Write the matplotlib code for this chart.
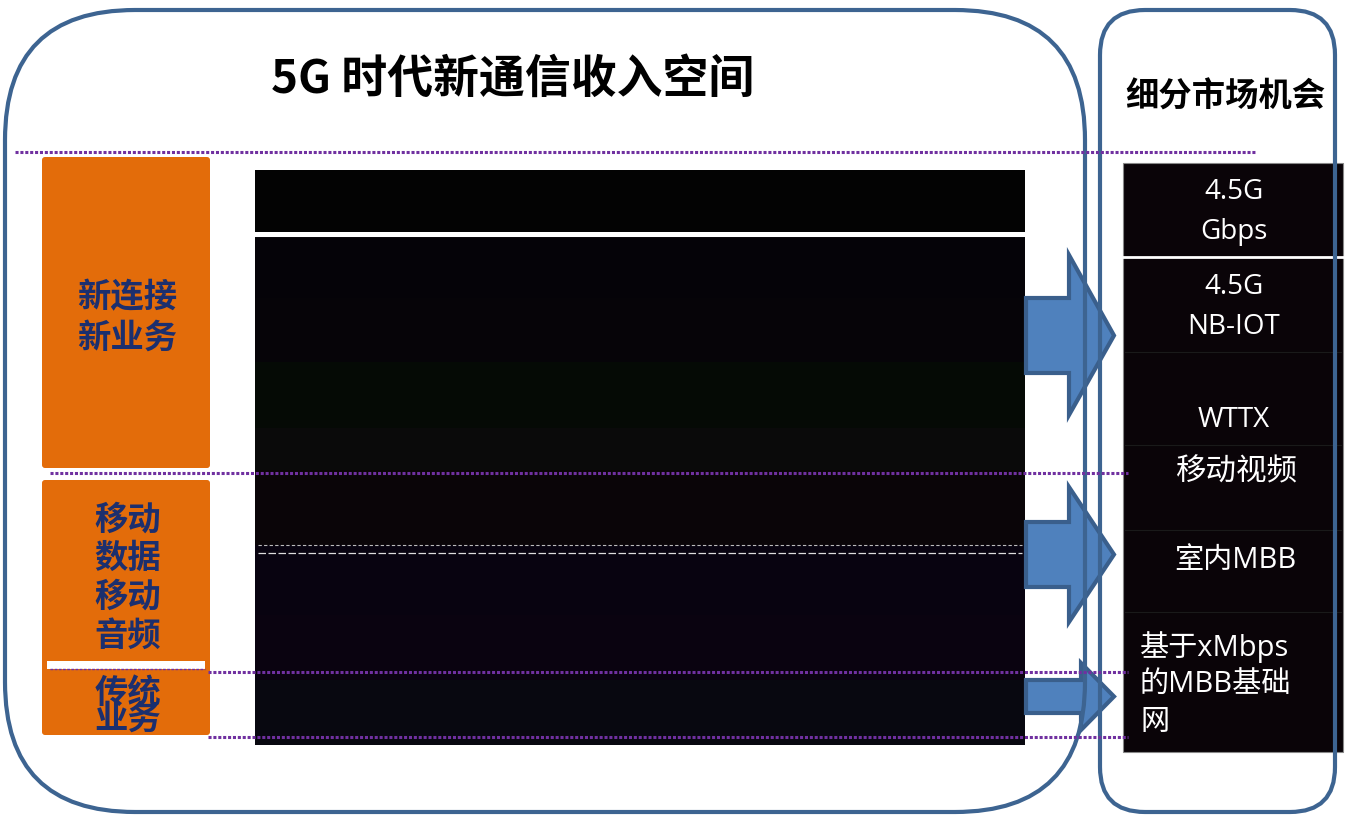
import matplotlib
matplotlib.use("Agg")
import matplotlib.pyplot as plt
from matplotlib.patches import FancyBboxPatch, Rectangle, Polygon

plt.rcParams['font.family'] = ['Noto Sans CJK SC', 'DejaVu Sans']

# ---- content ----
title = "5G 时代新通信收入空间"
side_title = "细分市场机会"
left_labels = ["新连接\n新业务", "移动\n数据\n移动\n音频", "传统\n业务"]
right_labels = ["4.5G\nGbps", "4.5G\nNB-IOT", "WTTX", "移动视频", "室内MBB", "基于xMbps\n的MBB基础\n网"]

W, H = 1370, 816
fig = plt.figure(figsize=(W / 100, H / 100), dpi=100)
ax = fig.add_axes([0, 0, 1, 1])
ax.set_xlim(0, W)
ax.set_ylim(H, 0)
ax.axis('off')

EDGE = '#3d6491'
PURPLE = '#7030a0'
ORANGE = '#e36c0a'
NAVY = '#1c2f6e'
ARROW = '#4f81bd'
ARROW_E = '#3a5f8c'

# ---- central dark panel with near-black bands ----
bands = [(170, 232, '#030303'), (237, 298, '#050308'), (298, 362, '#060408'),
         (362, 428, '#050a05'), (428, 470, '#0a0a0a'), (470, 545, '#0a0508'),
         (545, 615, '#080310'), (615, 680, '#0a0310'), (680, 745, '#080810')]
for y0, y1, c in bands:
    ax.add_patch(Rectangle((255, y0), 770, y1 - y0, facecolor=c, edgecolor='none', zorder=2))
ax.plot([255, 1025], [234.5, 234.5], color='white', lw=2.2, zorder=3)
ax.plot([258, 1022], [545, 545], color='#bbbbbb', lw=0.8, ls=(0, (3, 2)), zorder=3)
ax.plot([258, 1022], [553, 553], color='#dddddd', lw=0.9, ls=(0, (6, 2)), zorder=3)

# ---- right dark panel ----
ax.add_patch(Rectangle((1123, 163), 220, 589, facecolor='#0a0408', edgecolor='#888888', lw=0.8, zorder=2))
ax.plot([1123, 1343], [257, 257], color='white', lw=2, zorder=3)
for yy in [352, 445, 530, 612]:
    ax.plot([1125, 1341], [yy, yy], color='#1a1a1a', lw=0.8, zorder=3)

rfont = ['Open Sans', 'Noto Sans CJK SC']
rpos = [(1234, 212), (1234, 307), (1234, 420), (1237, 472), (1235, 560)]
rsize = [20, 20, 20, 22, 21]
for (x, y), lab, fs in zip(rpos, right_labels[:5], rsize):
    ax.text(x, y, lab, color='white', fontsize=fs, ha='center', va='center',
            family=rfont, linespacing=1.55, zorder=5)
ax.text(1140, 684, right_labels[5], color='white', fontsize=21, ha='left', va='center',
        family=rfont, linespacing=1.35, zorder=5)

# ---- blue arrows ----
def arrow(x0, xb, xt, yb0, yb1, yh0, yh1):
    yc = (yb0 + yb1) / 2
    pts = [(x0, yb0), (xb, yb0), (xb, yh0), (xt, yc), (xb, yh1), (xb, yb1), (x0, yb1)]
    ax.add_patch(Polygon(pts, closed=True, facecolor=ARROW, edgecolor=ARROW_E, lw=3, zorder=4,
                         joinstyle='miter'))

arrow(1026, 1069, 1114, 298, 373, 255, 415)
arrow(1026, 1069, 1114, 522, 587, 487, 622)
arrow(1026, 1081, 1114, 680, 713, 663, 730)

# ---- rounded frames ----
ax.add_patch(FancyBboxPatch((5, 10), 1080, 802, boxstyle='round,pad=0,rounding_size=130',
                            facecolor='none', edgecolor=EDGE, lw=3, zorder=6))
ax.add_patch(FancyBboxPatch((1100, 10), 235, 802, boxstyle='round,pad=0,rounding_size=45',
                            facecolor='none', edgecolor=EDGE, lw=3, zorder=6))

# ---- orange category boxes ----
ax.add_patch(FancyBboxPatch((42, 157), 168, 311, boxstyle='round,pad=0,rounding_size=3',
                            facecolor=ORANGE, edgecolor='none', zorder=2))
ax.add_patch(FancyBboxPatch((42, 480), 168, 255, boxstyle='round,pad=0,rounding_size=3',
                            facecolor=ORANGE, edgecolor='none', zorder=2))
ax.add_patch(Rectangle((47, 661), 158, 8, facecolor='white', edgecolor='none', zorder=3))

lpos = [(127, 318), (128, 578), (128, 706)]
lsp = [1.3, 1.22, 0.72]
for (x, y), lab, sp in zip(lpos, left_labels, lsp):
    ax.text(x, y, lab, color=NAVY, fontsize=24, fontweight='bold', ha='center', va='center',
            linespacing=sp, zorder=5)

# ---- purple dotted guide lines ----
dot = (0, (1, 0.6))
ax.plot([15, 1255], [152, 152], color=PURPLE, lw=2.2, ls=dot, zorder=7)
ax.plot([50, 1128], [473, 473], color=PURPLE, lw=2.2, ls=dot, zorder=7)
ax.plot([50, 205], [669, 669], color=PURPLE, lw=1.0, ls=(0, (2, 1)), zorder=7)
ax.plot([208, 1128], [672, 672], color=PURPLE, lw=2.2, ls=dot, zorder=7)
ax.plot([208, 1128], [737, 737], color=PURPLE, lw=2.2, ls=dot, zorder=7)

# ---- titles ----
ax.text(513, 80, title, fontsize=33, fontweight='bold', ha='center', va='center', color='black', zorder=5)
ax.text(1225, 97, side_title, fontsize=24, fontweight='bold', ha='center', va='center', color='black', zorder=5)

fig.savefig('out.png', dpi=100)
